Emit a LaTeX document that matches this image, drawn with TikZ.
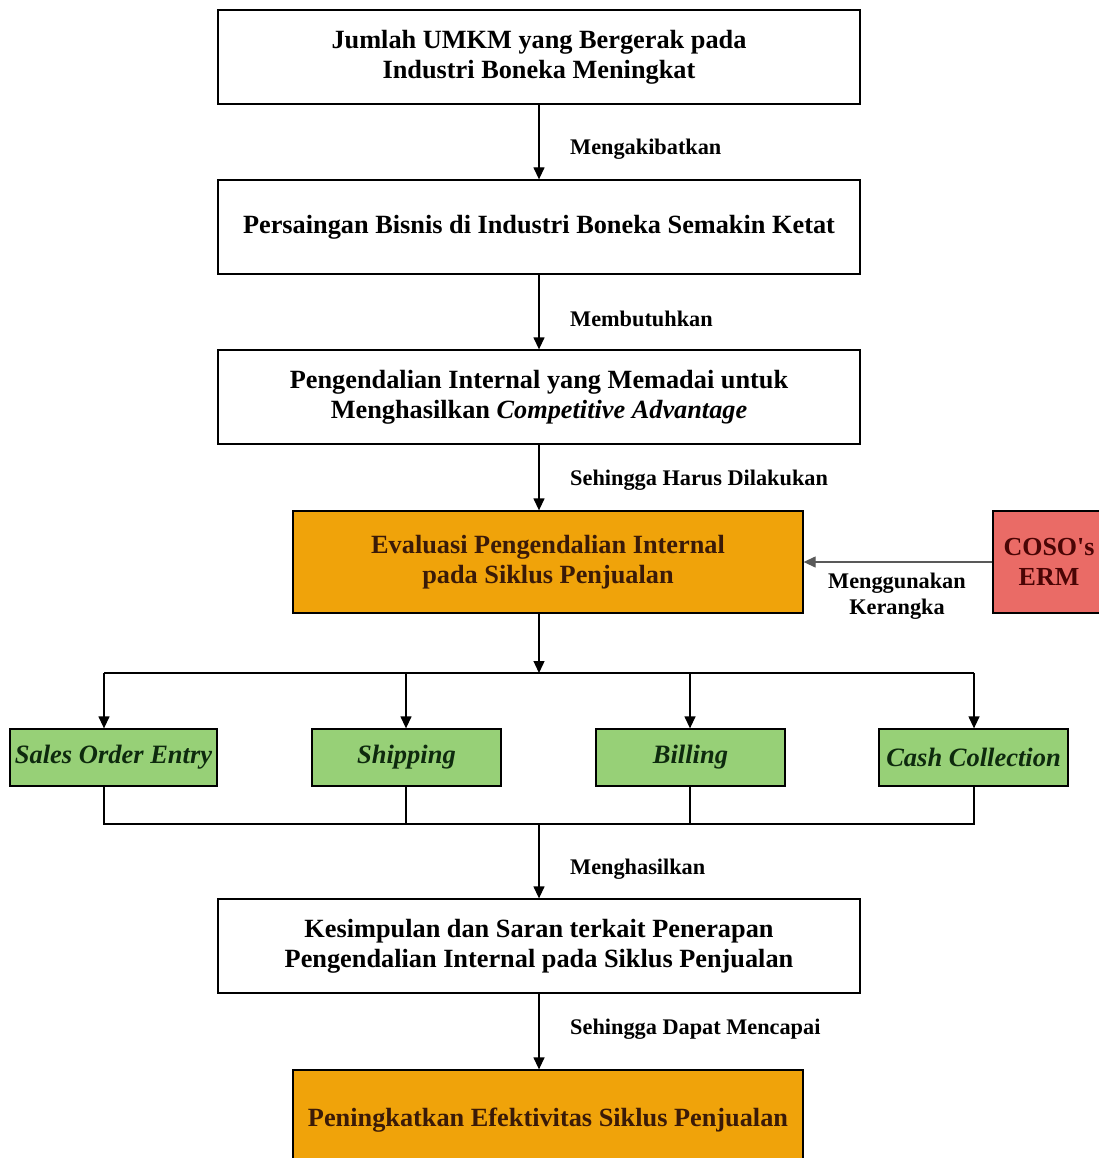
\documentclass[tikz,border=0pt]{standalone}
\usepackage{fontspec}
\setmainfont{Liberation Serif}
\usetikzlibrary{arrows.meta}
\definecolor{orangefill}{HTML}{F0A30A}
\definecolor{redfill}{HTML}{EA6B66}
\definecolor{greenfill}{HTML}{97D077}
\definecolor{darkbrown}{HTML}{3A1A08}
\definecolor{darkred}{HTML}{4A0505}
\definecolor{darkgreen}{HTML}{0E2A0E}
\begin{document}
\begin{tikzpicture}[x=1pt,y=-1pt,
  box/.style={draw=black, line width=1.3pt, inner sep=0pt, align=center, font=\fontsize{26.3}{30}\selectfont\bfseries},
  obox/.style={box, fill=orangefill, text=darkbrown},
  gbox/.style={box, fill=greenfill, text=darkgreen, font=\fontsize{26.5}{28}\selectfont\bfseries\itshape},
  rbox/.style={box, fill=redfill, text=darkred, font=\fontsize{26}{30}\selectfont\bfseries},
  lbl/.style={font=\fontsize{22.3}{26}\selectfont\bfseries, align=left, inner sep=0pt},
  arr/.style={line width=1.3pt, -{Triangle[length=12pt,width=11pt]}},
  ln/.style={line width=1.3pt}
]
\useasboundingbox (0,0) rectangle (1099,1158);
% main boxes
\node[box, minimum width=642pt, minimum height=94pt] (b1) at (539,57) {Jumlah UMKM yang Bergerak pada\\Industri Boneka Meningkat};
\node[box, minimum width=642pt, minimum height=94pt] (b2) at (539,227) {Persaingan Bisnis di Industri Boneka Semakin Ketat};
\node[box, minimum width=642pt, minimum height=94pt] (b3) at (539,397) {Pengendalian Internal yang Memadai untuk\\Menghasilkan \textit{Competitive Advantage}};
\node[obox, minimum width=510pt, minimum height=102pt] (b4) at (548,562) {Evaluasi Pengendalian Internal\\pada Siklus Penjualan};
\node[rbox, minimum width=112pt, minimum height=102pt] (coso) at (1049,562) {COSO\textquotesingle s\\ERM};
% green boxes
\node[gbox, minimum width=207pt, minimum height=57pt] (g1) at (113.5,757.5) {Sales Order Entry};
\node[gbox, minimum width=189pt, minimum height=57pt] (g2) at (406.5,757.5) {Shipping};
\node[gbox, minimum width=189pt, minimum height=57pt] (g3) at (690.5,757.5) {Billing};
\node[gbox, minimum width=189pt, minimum height=57pt] (g4) at (973.5,757.5) {Cash Collection};
\node[box, minimum width=642pt, minimum height=94pt] (b5) at (539,946) {Kesimpulan dan Saran terkait Penerapan\\Pengendalian Internal pada Siklus Penjualan};
\node[obox, minimum width=510pt, minimum height=100pt] (b6) at (548,1120) {Peningkatkan Efektivitas Siklus Penjualan};
% junction coordinates
\coordinate (top) at (539,673);
\coordinate (bot) at (539,824);
\coordinate (t1) at (104,673);
\coordinate (t2) at (406,673);
\coordinate (t3) at (690,673);
\coordinate (t4) at (974,673);
\coordinate (d1) at (104,824);
\coordinate (d2) at (406,824);
\coordinate (d3) at (690,824);
\coordinate (d4) at (974,824);
% arrows
\draw[arr] (b1.south) -- (b2.north);
\draw[arr] (b2.south) -- (b3.north);
\draw[arr] (b3.south) -- (b3.south |- b4.north);
\draw[arr] (b3.south |- b4.south) -- (top);
\draw[ln] (t1) -- (t4);
\draw[arr] (t1) -- (t1 |- g1.north);
\draw[arr] (t2) -- (t2 |- g2.north);
\draw[arr] (t3) -- (t3 |- g3.north);
\draw[arr] (t4) -- (t4 |- g4.north);
\draw[ln] (t1 |- g1.south) -- (d1) -- (d4) -- (t4 |- g4.south);
\draw[ln] (t2 |- g2.south) -- (d2);
\draw[ln] (t3 |- g3.south) -- (d3);
\draw[arr] (bot) -- (b5.north);
\draw[arr] (b5.south) -- (b5.south |- b6.north);
\draw[arr, draw=black!65] (coso.west) -- (b4.east);
% labels
\node[lbl, anchor=west] (l1) at (570,149) {Mengakibatkan};
\node[lbl, anchor=west] (l2) at (570,319) {Membutuhkan};
\node[lbl, anchor=west] (l3) at (570,480) {Sehingga Harus Dilakukan};
\node[lbl, align=center] (l4) at (897,596) {Menggunakan\\Kerangka};
\node[lbl, anchor=west] (l5) at (570,869) {Menghasilkan};
\node[lbl, anchor=west] (l6) at (570,1029) {Sehingga Dapat Mencapai};
\end{tikzpicture}
\end{document}
